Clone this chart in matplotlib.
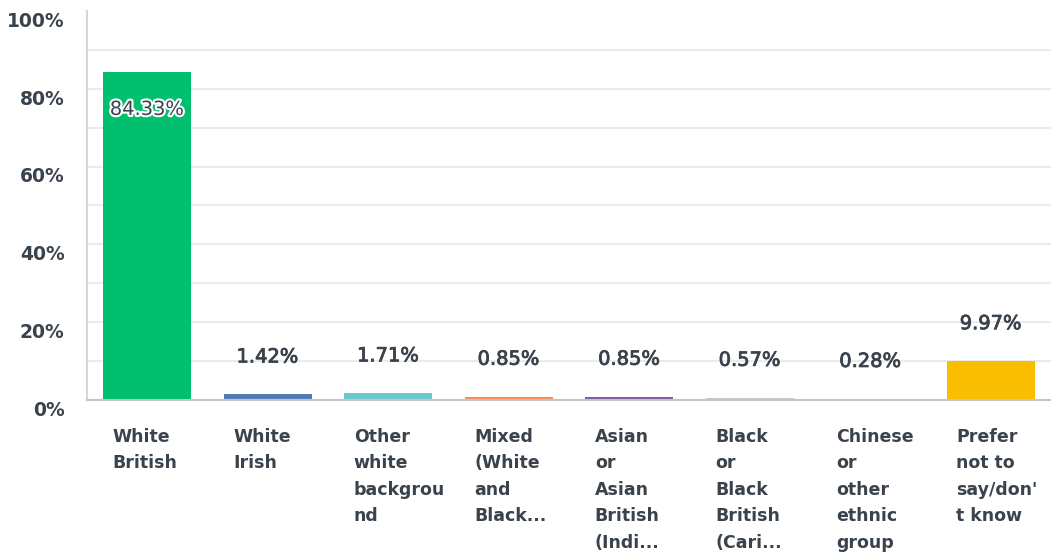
import matplotlib.pyplot as plt
import matplotlib.patheffects as pe
from matplotlib.transforms import ScaledTranslation

# Ethnic group responses (percent)
categories = [
    "White\nBritish",
    "White\nIrish",
    "Other\nwhite\nbackgrou\nnd",
    "Mixed\n(White\nand\nBlack...",
    "Asian\nor\nAsian\nBritish\n(Indi...",
    "Black\nor\nBlack\nBritish\n(Cari...",
    "Chinese\nor\nother\nethnic\ngroup",
    "Prefer\nnot to\nsay/don'\nt know",
]
values = [84.33, 1.42, 1.71, 0.85, 0.85, 0.57, 0.28, 9.97]
value_labels = ["84.33%", "1.42%", "1.71%", "0.85%", "0.85%", "0.57%", "0.28%", "9.97%"]
colors = ["#00BF6F", "#507CB6", "#6BC8CD", "#FF8B4F", "#7D5BA6", "#C9C9C9", "#C9C9C9", "#F9BE00"]

text_color = "#3A434C"
font = "DejaVu Sans"
bar_w = 0.73

fig = plt.figure(figsize=(10.51, 5.59), dpi=100)
ax = fig.add_axes([0.0825, 0.2844, 0.9175, 0.696])

x = list(range(len(values)))
ax.bar(x, values, width=bar_w, color=colors, zorder=2)

ax.set_xlim(-0.5, len(values) - 0.5)
ax.set_ylim(0, 100)

# horizontal guide lines every 10%
for g in range(10, 100, 10):
    ax.axhline(g, color="#E8E8E8", linewidth=1.2, zorder=1)

for s in ["top", "right"]:
    ax.spines[s].set_visible(False)
ax.spines["left"].set_color("#D6D6D6")
ax.spines["left"].set_linewidth(1.5)
ax.spines["bottom"].set_color("#C4C4C4")
ax.spines["bottom"].set_linewidth(1.5)
ax.spines["bottom"].set_zorder(3)

# y axis labels sit a little below their line
ax.set_yticks(range(0, 101, 20))
ax.set_yticklabels([f"{v}%" for v in range(0, 101, 20)],
                   fontsize=13.5, color=text_color, fontfamily=font, fontweight="bold")
ax.tick_params(axis="y", length=0, pad=16)
shift = ScaledTranslation(0, -6 / 72, fig.dpi_scale_trans)
for lab in ax.get_yticklabels():
    lab.set_transform(lab.get_transform() + shift)

# category labels, left aligned near each bar's left edge
ax.set_xticks([i - bar_w / 2 + 0.08 for i in x])
ax.set_xticklabels(categories, ha="left", va="top", fontsize=12.5, color=text_color,
                   fontfamily=font, fontweight="bold", linespacing=1.61)
ax.tick_params(axis="x", length=0, pad=20)

# value labels, slightly thickened
thick = pe.withStroke(linewidth=0.6, foreground=text_color)
for i, v in enumerate(values):
    if v > 50:
        ax.annotate(value_labels[i], (i, v), xytext=(0, -27), textcoords="offset points",
                    ha="center", va="center", fontsize=14, color=text_color, fontfamily=font,
                    path_effects=[pe.withStroke(linewidth=3, foreground="white")])
    else:
        ax.annotate(value_labels[i], (i, v), xytext=(0, 27), textcoords="offset points",
                    ha="center", va="center", fontsize=14, color=text_color, fontfamily=font,
                    path_effects=[thick])

fig.savefig("out.png", dpi=100)
